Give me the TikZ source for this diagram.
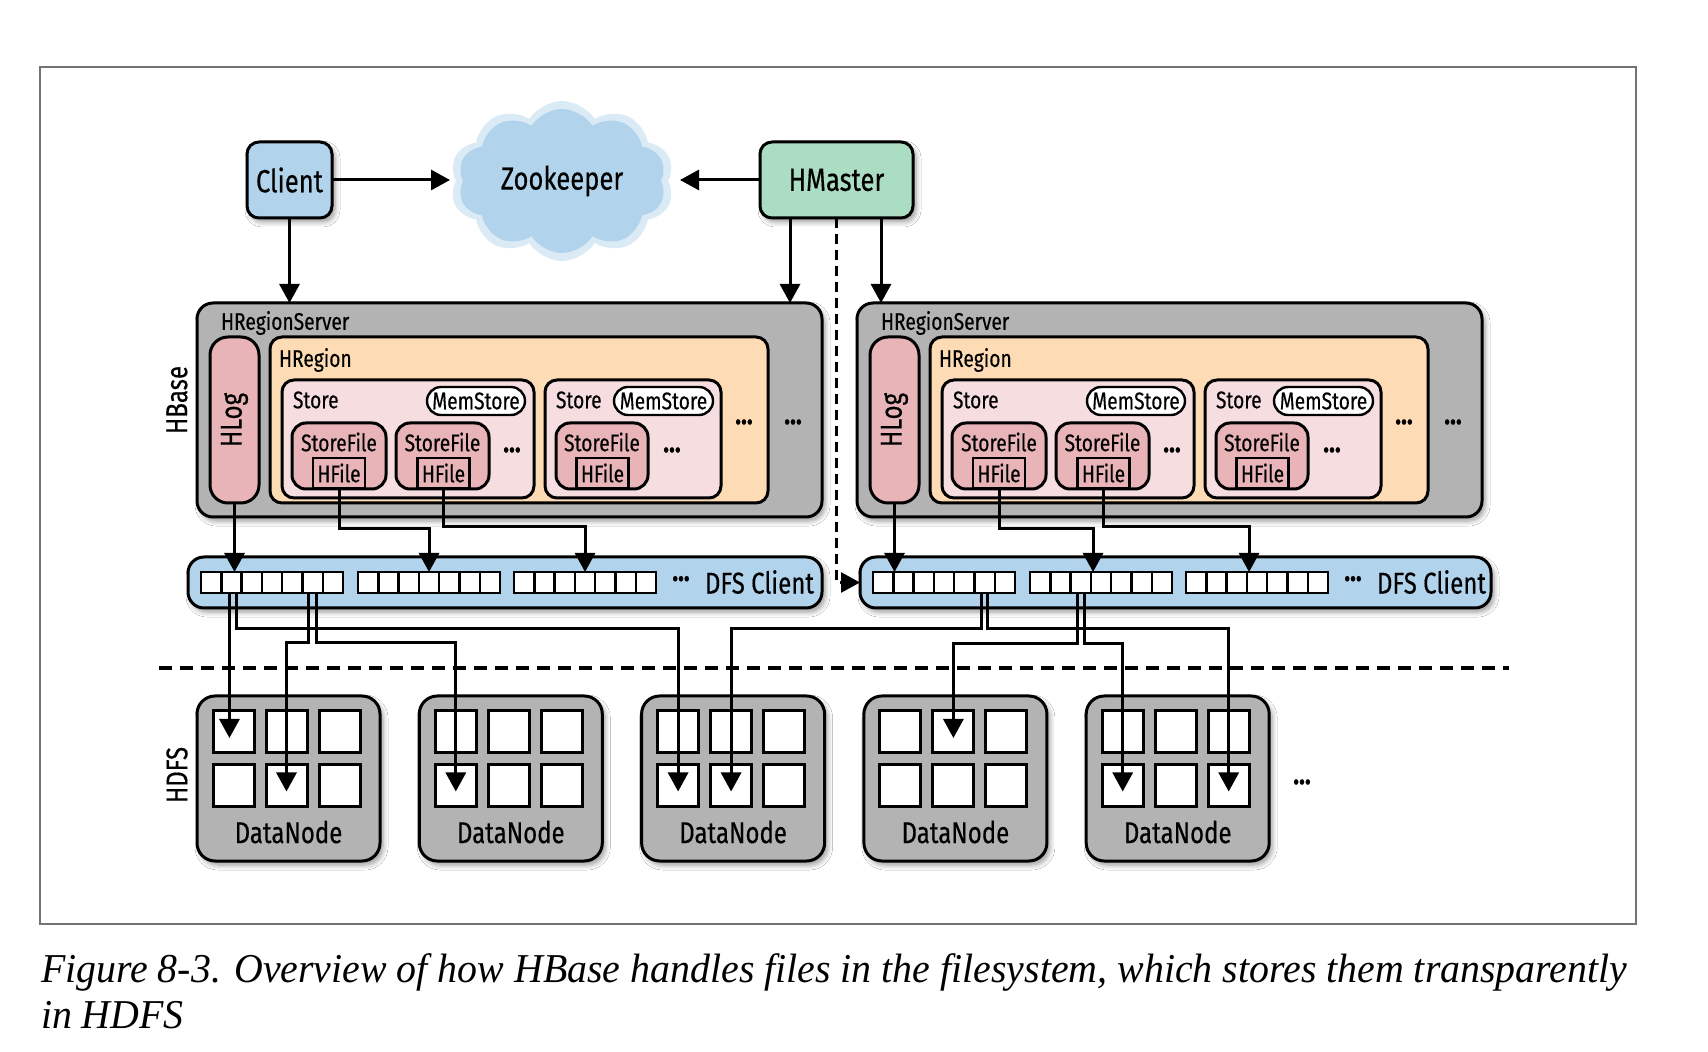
\documentclass[tikz,border=0pt]{standalone}
\usepackage{fontspec}
\newfontfamily\dfont{Fira Sans}[FakeStretch=0.8,FakeBold=0.4]
\newfontfamily\capfont{Liberation Serif}[FakeStretch=0.972]
\usetikzlibrary{shapes.symbols,arrows.meta,shadows.blur,fit}
\definecolor{cblue}{HTML}{B1D4EC}
\definecolor{cgreen}{HTML}{ABDDC3}
\definecolor{cgray}{HTML}{B3B3B3}
\definecolor{cpink}{HTML}{E8B4B8}
\definecolor{cpeach}{HTML}{FDDCB5}
\definecolor{clpink}{HTML}{F6DDE0}
\begin{document}
\begin{tikzpicture}[x=0.5pt,y=-0.5pt,
  every node/.style={inner sep=0pt, outer sep=0pt},
  shad/.style={blur shadow={shadow xshift=1.5pt, shadow yshift=-2pt, shadow blur radius=2.5pt, shadow blur steps=6, shadow opacity=40}},
  bx/.style={draw=black, line width=1.5pt, inner sep=0pt},
  arr/.style={line width=1.5pt, -{Triangle[length=9.5pt,width=10pt]}},
  tsmall/.style={font=\dfont\fontsize{12}{14}\selectfont},
  tmed/.style={font=\dfont\fontsize{15}{17}\selectfont},
  tbig/.style={font=\dfont\fontsize{16}{18}\selectfont},
  tdots/.style={font=\dfont\bfseries\fontsize{15}{17}\selectfont},
  dcell/.style={draw=black, fill=white, line width=1.2pt, minimum width=10.15pt, minimum height=10.5pt},
  ncell/.style={draw=black, fill=white, line width=1.5pt, minimum width=20.5pt, minimum height=21pt}
]
\useasboundingbox (0,0) rectangle (1708,1052);
\fill[white] (0,0) rectangle (1708,1052);
\draw[black!55, line width=1pt] (40,67) rectangle (1636,924);

% ---------- top row ----------
\node[cloud, cloud puffs=10, cloud puff arc=115, aspect=1.4, minimum width=112pt, minimum height=80pt, fill=cblue, opacity=0.45] (zkhalo) at (562,181) {};
\node[cloud, cloud puffs=10, cloud puff arc=115, aspect=1.4, minimum width=104pt, minimum height=72pt, fill=cblue] (zk) at (562,181) {};
\node[tbig] (zkt) at (562,181) {Zookeeper};

\node[bx, shad, fill=cblue, rounded corners=6pt, minimum width=42.5pt, minimum height=38pt, tbig] (client) at (289.5,180) {Client};
\node[bx, shad, fill=cgreen, rounded corners=6pt, minimum width=76.5pt, minimum height=38pt, tbig] (hmaster) at (836.5,180) {HMaster};

\coordinate (zkl) at (450,180);
\coordinate (zkr) at (680,180);
\draw[arr] (client.east) -- (zkl);
\draw[arr] (hmaster.west) -- (zkr);

% ---------- region servers ----------
\foreach \s/\dx in {1/0,2/660}{
  \node[bx, shad, fill=cgray, rounded corners=8pt, fit={({197+\dx},303) ({822+\dx},517)}] (hrs\s) {};
  \node[tsmall, anchor=west] (hrsl\s) at ({221+\dx},323) {HRegionServer};
  \node[bx, fill=cpink, rounded corners=9pt, fit={({210+\dx},337) ({259+\dx},503)}] (hlog\s) {};
  \node[tmed, rotate=90] (hlogt\s) at (hlog\s.center) {HLog};
  \node[bx, fill=cpeach, rounded corners=6pt, fit={({270+\dx},337) ({768+\dx},503)}] (hreg\s) {};
  \node[tsmall, anchor=west] (hregl\s) at ({279+\dx},360) {HRegion};
  % store a
  \node[bx, fill=clpink, rounded corners=6pt, fit={({282+\dx},380) ({534+\dx},498)}] (sta\s) {};
  \node[tsmall, anchor=west] (stal\s) at ({293+\dx},400) {Store};
  \node[bx, fill=white, line width=1.2pt, rounded corners=7pt, minimum width=49pt, minimum height=14pt, tsmall] (msa\s) at ({476+\dx},401) {MemStore};
  \node[bx, fill=cpink, rounded corners=7pt, fit={({292+\dx},423) ({386+\dx},489)}] (sfa\s) {};
  \node[tsmall] (sfat\s) at ({339+\dx},442) {StoreFile};
  \node[bx, fill=cpink, line width=1.1pt, minimum width=26pt, minimum height=15pt, tsmall] (hfa\s) at ({339+\dx},473) {HFile};
  \node[bx, fill=cpink, rounded corners=7pt, fit={({396+\dx},423) ({489+\dx},489)}] (sfb\s) {};
  \node[tsmall] (sfbt\s) at ({442.5+\dx},442) {StoreFile};
  \node[bx, fill=cpink, line width=1.1pt, minimum width=26pt, minimum height=15pt, tsmall] (hfb\s) at ({443.5+\dx},473) {HFile};
  \node[tdots] (dsa\s) at ({512+\dx},450) {\ldots};
  % store b
  \node[bx, fill=clpink, rounded corners=6pt, fit={({545+\dx},380) ({721+\dx},498)}] (stb\s) {};
  \node[tsmall, anchor=west] (stbl\s) at ({556+\dx},400) {Store};
  \node[bx, fill=white, line width=1.2pt, rounded corners=7pt, minimum width=49.5pt, minimum height=14pt, tsmall] (msb\s) at ({663.5+\dx},401) {MemStore};
  \node[bx, fill=cpink, rounded corners=7pt, fit={({556+\dx},423) ({648+\dx},489)}] (sfc\s) {};
  \node[tsmall] (sfct\s) at ({602+\dx},442) {StoreFile};
  \node[bx, fill=cpink, line width=1.1pt, minimum width=26pt, minimum height=15pt, tsmall] (hfc\s) at ({602.5+\dx},473) {HFile};
  \node[tdots] (dsb\s) at ({672+\dx},450) {\ldots};
  \node[tdots] (dsc\s) at ({744+\dx},422) {\ldots};
  \node[tdots] (dsd\s) at ({793+\dx},422) {\ldots};
}

% ---------- DFS clients ----------
\node[bx, shad, fill=cblue, rounded corners=8pt, fit={(188,557) (822,608)}] (dfs1) {};
\node[bx, shad, fill=cblue, rounded corners=8pt, fit={(860,557) (1491,608)}] (dfs2) {};
\foreach \s/\dx in {1/0,2/672}{
  \foreach \g/\gx in {1/201,2/358,3/514}{
    \foreach \c in {1,...,7}{
      \node[dcell] (d\s-\g-\c) at ({\dx+\gx+(\c-0.5)*20.3},582.5) {};
    }
  }
  \node[tdots] (dfsd\s) at ({681+\dx},582) {···};
  \node[tmed, anchor=west] (dfst\s) at ({705+\dx},582) {DFS Client};
}

% ---------- arrows HBase -> DFS ----------
\draw[arr] (client.south) -- (client.south |- hrs1.north);
\coordinate (hm1) at ([xshift=-23.25pt]hmaster.south);
\coordinate (hm2) at ([xshift=22.25pt]hmaster.south);
\draw[arr] (hm1) -- (hm1 |- hrs1.north);
\draw[arr] (hm2) -- (hm2 |- hrs2.north);
\draw[line width=1.3pt, dash pattern=on 5pt off 3pt, -{Triangle[length=9.5pt,width=10pt]}] (hmaster.south) -- (hmaster.south |- dfs2.west) -- (dfs2.west);

\draw[arr] (hlog1.south) -- (hlog1.south |- d1-1-2.north);
\draw[arr] (hlog2.south) -- (hlog2.south |- d2-1-2.north);
\draw[arr] (hfa1.south) -- ++(0,41) -| (d1-2-4.north);
\draw[arr] (hfb1.south) -- ++(0,39) -| (d1-3-4.north);
\coordinate (e22) at ([xshift=-4pt]d2-2-4.north);
\coordinate (e23) at ([xshift=-4pt]d2-3-4.north);
\draw[arr] (hfa2.south) -- ++(0,41) -| (e22);
\draw[arr] (hfb2.south) -- ++(0,39) -| (e23);

% ---------- HDFS ----------
\draw[line width=1.7pt, dash pattern=on 6.5pt off 4pt] (159,668) -- (1509,668);
\node[tmed, rotate=90] (hbase) at (177,400) {HBase};
\node[tmed, rotate=90] (hdfs) at (177,775) {HDFS};

\foreach \k in {1,...,5}{
  \pgfmathsetmacro\dnx{197+222.3*(\k-1)}
  \node[bx, shad, fill=cgray, rounded corners=9pt, fit={(\dnx,696) ({\dnx+183},861)}] (dn\k) {};
  \node[tmed] (dnt\k) at ({\dnx+91.5},832) {DataNode};
  \foreach \r/\ry in {1/732,2/785.5}{
    \foreach \c in {1,2,3}{
      \node[ncell] (dn\k-\r-\c) at ({\dnx+36.5+53*(\c-1)},\ry) {};
      \coordinate (t\k-\r-\c) at ([yshift=7.5pt]dn\k-\r-\c.south);
    }
  }
}
\node[tdots] (dnd) at (1302,782) {\ldots};

% ---------- DFS -> DataNode ----------
\coordinate (s1) at ([xshift=-1pt]d1-1-2.south);
\coordinate (s2) at ([xshift=2.75pt]d1-1-2.south);
\coordinate (s3) at ([xshift=-2pt]d1-1-6.south);
\coordinate (s4) at ([xshift=2pt]d1-1-6.south);
\coordinate (s5) at ([xshift=-1.5pt]d2-1-6.south);
\coordinate (s6) at ([xshift=1.5pt]d2-1-6.south);
\coordinate (s7) at ([xshift=-1.75pt]d2-2-3.south);
\coordinate (s8) at ([xshift=1.75pt]d2-2-3.south);
\draw[arr] (s1) -- (s1 |- t1-1-1);
\draw[arr] (s2) -- ++(0,36) -| (t3-2-1);
\draw[arr] (s3) -- ++(0,50) -| (t1-2-2);
\draw[arr] (s4) -- ++(0,50) -| (t2-2-1);
\draw[arr] (s5) -- ++(0,36) -| (t3-2-2);
\draw[arr] (s6) -- ++(0,36) -| (t5-2-3);
\draw[arr] (s7) -- ++(0,51) -| (t4-1-2);
\draw[arr] (s8) -- ++(0,51) -| (t5-2-1);

% ---------- caption ----------
\node[anchor=base west, font=\capfont\itshape\fontsize{20.5}{24}\selectfont] (cap1) at (41,982) {Figure 8-3. Overview of how HBase handles files in the filesystem, which stores them transparently};
\node[anchor=base west, font=\capfont\itshape\fontsize{20.5}{24}\selectfont] (cap2) at (41,1028) {in HDFS};
\end{tikzpicture}
\end{document}
